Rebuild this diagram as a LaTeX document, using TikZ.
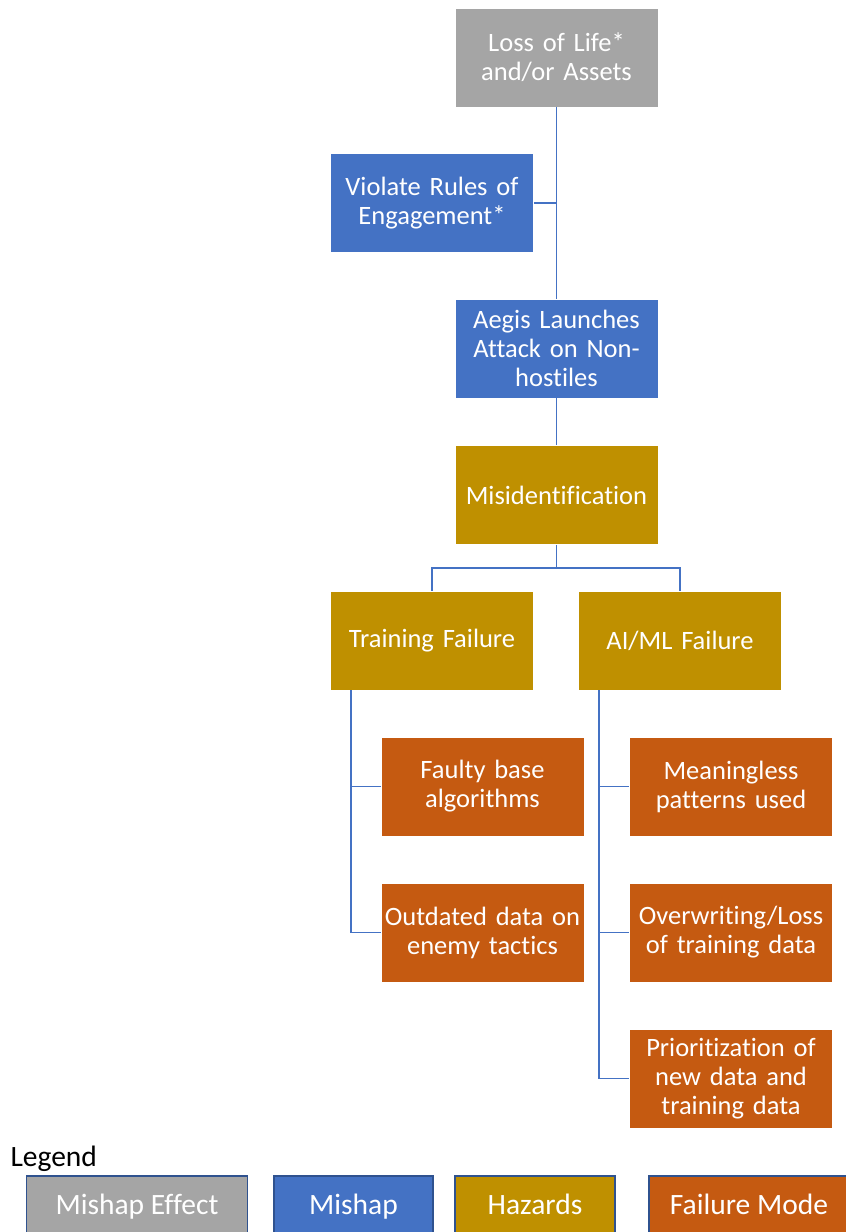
\documentclass[tikz,border=0pt]{standalone}
\usepackage{fontspec}
\setmainfont{Carlito}[Ligatures={NoCommon}]
\definecolor{effectgray}{HTML}{A5A5A5}
\definecolor{mishapblue}{HTML}{4472C4}
\definecolor{hazardgold}{HTML}{BF9000}
\definecolor{failorange}{HTML}{C55A11}
\definecolor{legendedge}{HTML}{2F528F}
\begin{document}
\begin{tikzpicture}[x=1pt,y=-1pt,
  box/.style={draw=white, line width=0.6pt, minimum width=203pt, minimum height=99pt,
    inner sep=0pt, text=white, align=center, text width=199pt,
    font=\fontsize{26.5}{29}\selectfont},
  effect/.style={box, fill=effectgray},
  mishap/.style={box, fill=mishapblue},
  hazard/.style={box, fill=hazardgold},
  failure/.style={box, fill=failorange},
  legbox/.style={draw=legendedge, line width=1.2pt, minimum height=62pt, inner sep=0pt,
    text=white, text height=20pt, text depth=6pt, font=\fontsize{29.5}{32}\selectfont},
  link/.style={draw=mishapblue, line width=1.8pt}]
\useasboundingbox (0,0) rectangle (846,1232);

% tree nodes
\node[effect]  (loss)  at (556.5,57.5)  {Loss of Life*\\and/or Assets};
\node[mishap]  (roe)   at (432,203)   {Violate Rules of\\Engagement*};
\node[mishap]  (aegis) at (556.5,348.5) {Aegis Launches\\Attack on Non-\\hostiles};
\node[hazard]  (misid) at (556.5,495)   {Misidentification};
\node[hazard]  (train) at (432,640.5)   {Training Failure};
\node[hazard]  (aiml)  at (680,640.5)   {AI/ML Failure};
\node[failure] (faulty) at (482.5,786.5) {Faulty base\\algorithms};
\node[failure] (outdated) at (482.5,932.5) {Outdated data on\\enemy tactics};
\node[failure] (meaning) at (731,786.5) {Meaningless\\patterns used};
\node[failure] (overwr) at (731,932.5) {Overwriting/Loss\\of training data};
\node[failure] (prior) at (731,1078.5) {Prioritization of\\new data and\\training data};

% junction points
\coordinate (j1) at (556.5,568);
\coordinate (tbus) at (351,690);
\coordinate (abus) at (599,690);

% connectors
\draw[link] (loss.south) -- (aegis.north);
\draw[link] (roe.east) -- (roe.east -| loss.south);
\draw[link] (aegis.south) -- (misid.north);
\draw[link] (misid.south) -- (j1);
\draw[link] (train.north) |- (j1) -| (aiml.north);
\draw[link] (tbus) |- (outdated.west);
\draw[link] (tbus |- faulty.west) -- (faulty.west);
\draw[link] (abus) |- (prior.west);
\draw[link] (abus |- meaning.west) -- (meaning.west);
\draw[link] (abus |- overwr.west) -- (overwr.west);

% legend
\node[anchor=west, font=\fontsize{29.5}{32}\selectfont] (legtitle) at (7,1159) {Legend};
\node[legbox, fill=effectgray, minimum width=221pt] (lg1) at (137,1207) {Mishap Effect};
\node[legbox, fill=mishapblue, minimum width=159pt] (lg2) at (353.5,1207) {Mishap};
\node[legbox, fill=hazardgold, minimum width=160pt] (lg3) at (535,1207) {Hazards};
\node[legbox, fill=failorange, minimum width=200pt] (lg4) at (749,1207) {Failure Mode};
\end{tikzpicture}
\end{document}
